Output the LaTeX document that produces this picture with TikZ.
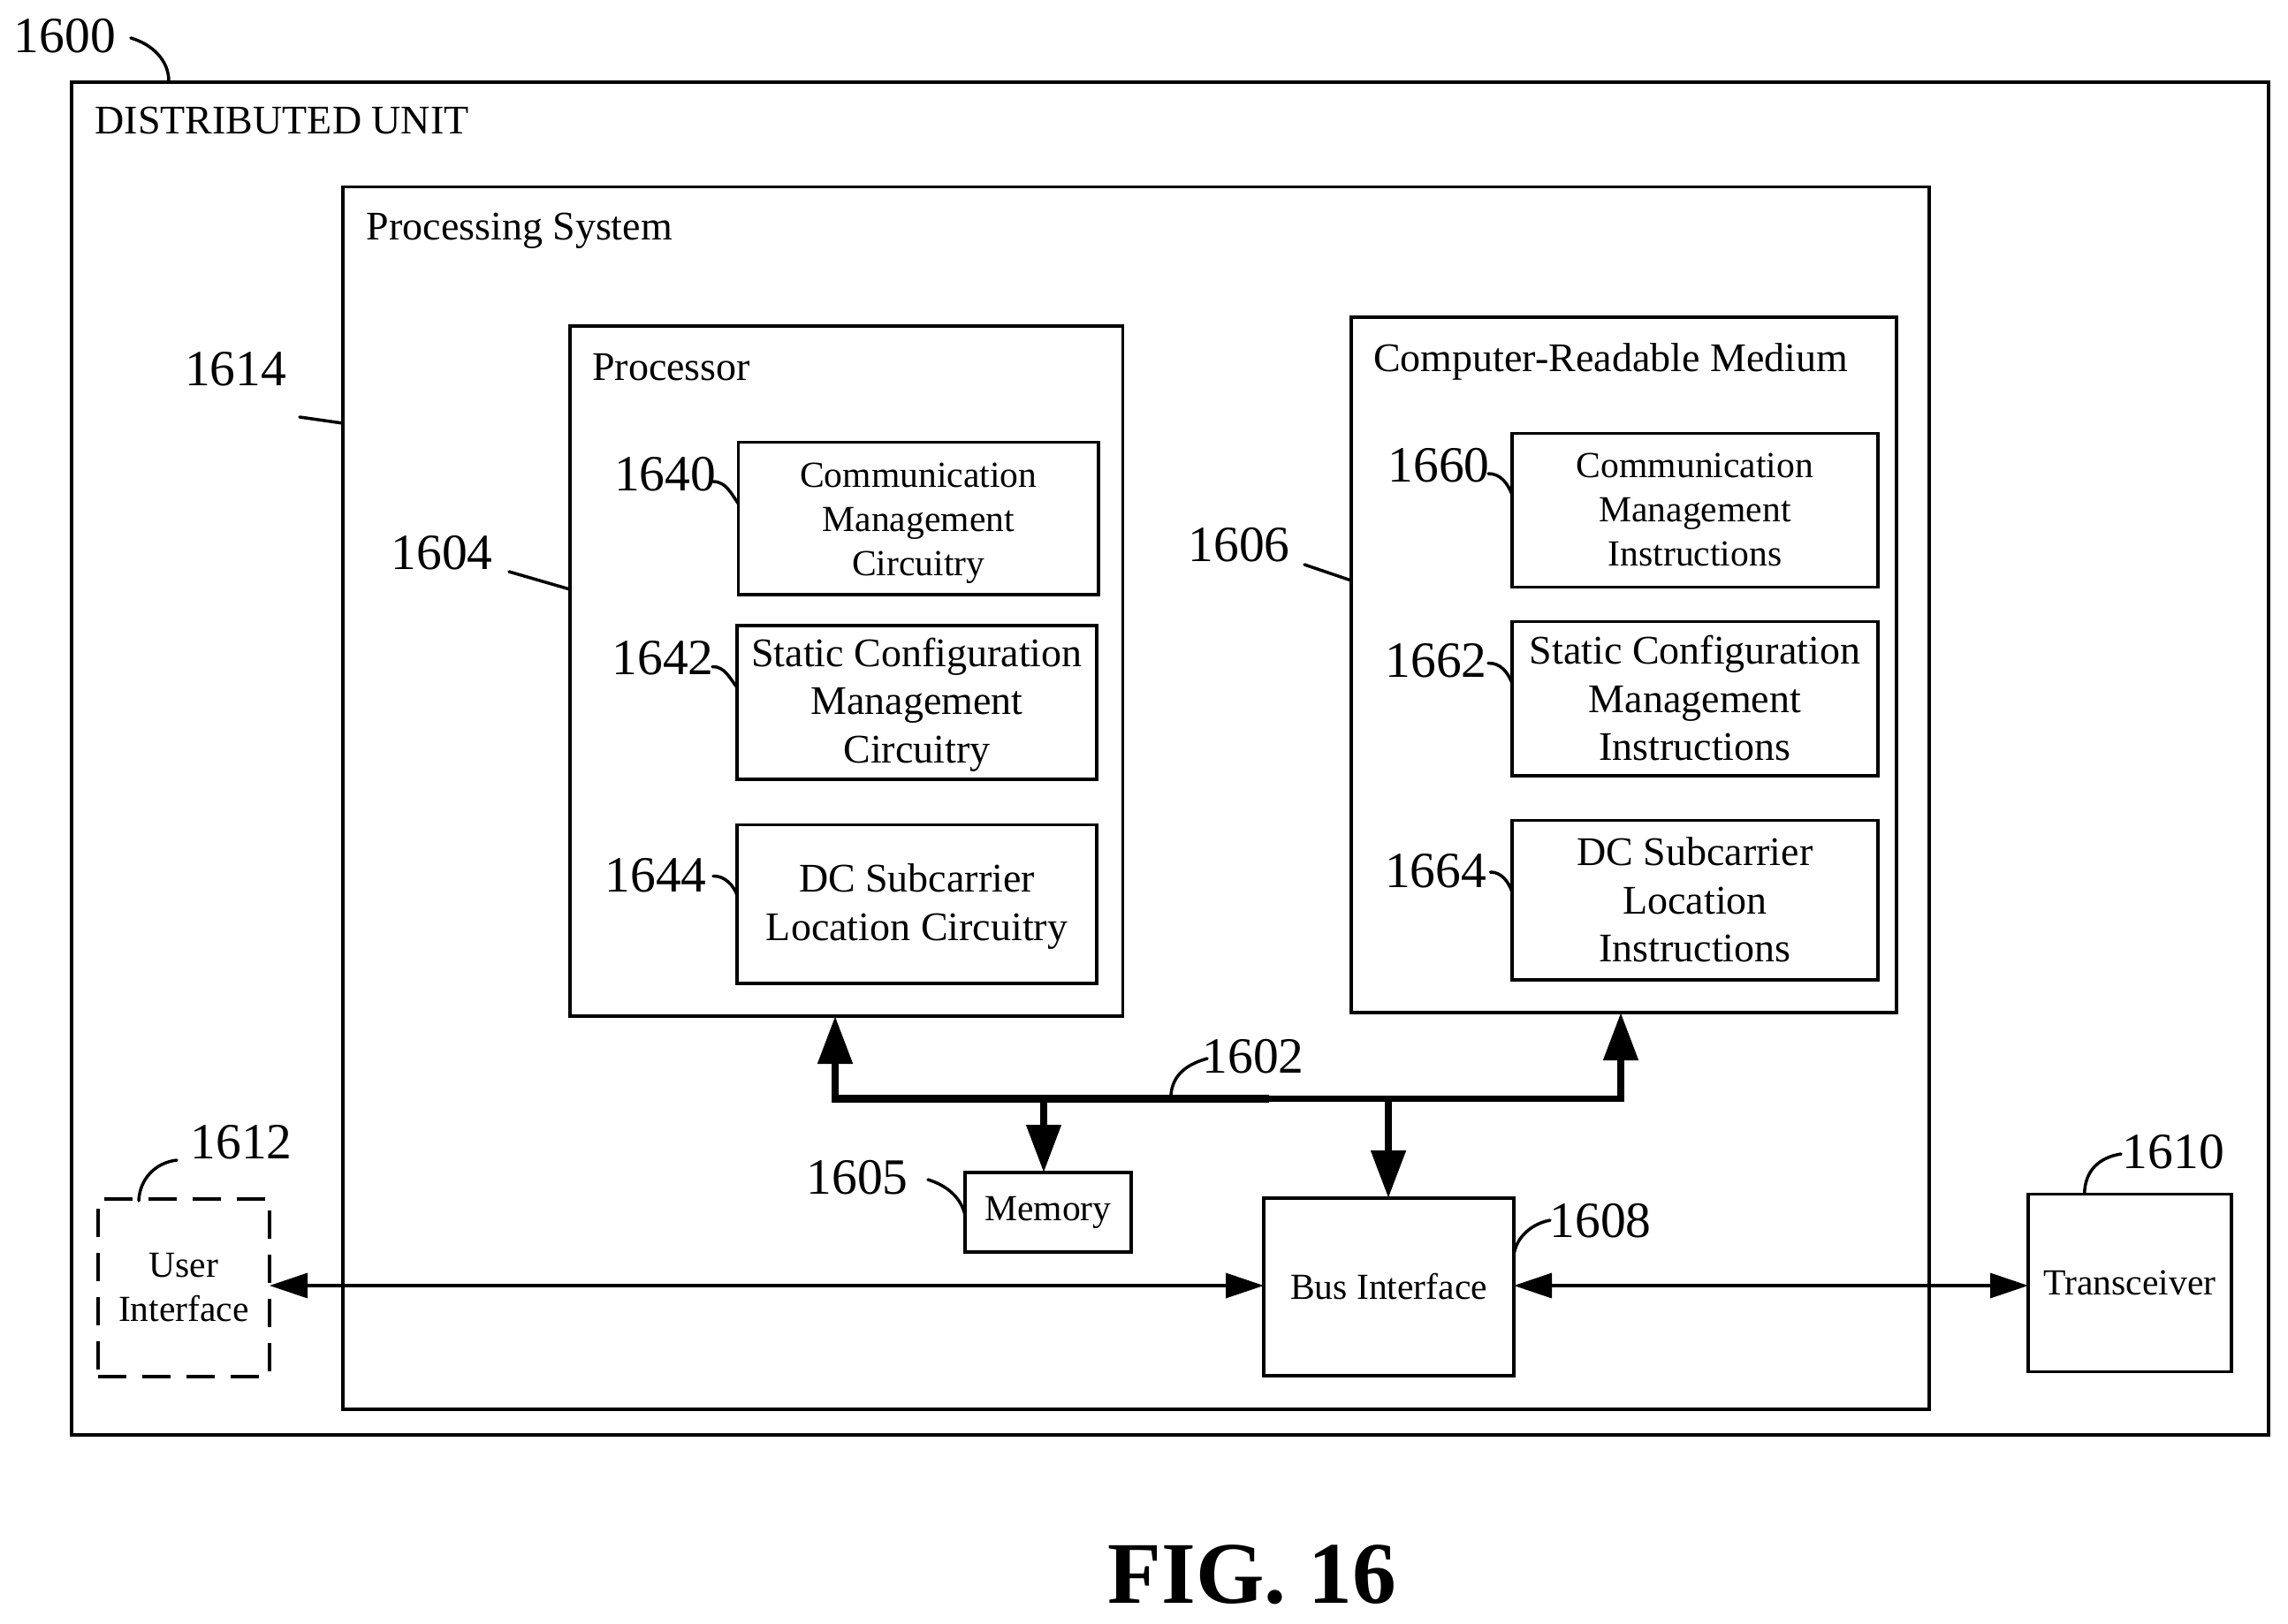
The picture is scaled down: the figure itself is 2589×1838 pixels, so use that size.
\documentclass[tikz,border=0pt]{standalone}
\usepackage{fontspec}
\setmainfont{Liberation Serif}
\usetikzlibrary{arrows.meta}
\newcommand{\txtbig}{\fontsize{46}{54.5}\selectfont}
\newcommand{\txtsmall}{\fontsize{41.6}{50}\selectfont}
\newcommand{\txtref}{\fontsize{57.5}{60}\selectfont}
\newcommand{\txtfig}{\fontsize{99.5}{110}\selectfont\bfseries}
\newcommand{\topgap}[1]{\rule{0pt}{#1pt}}
\tikzset{
  box/.style={draw=black,line width=3.5pt,inner sep=0pt,outer sep=0pt,align=center,fill=none},
  bigbox/.style={box,font=\txtbig},
  smallbox/.style={box,font=\txtsmall},
  title/.style={inner sep=0pt,anchor=base west,font=\txtbig},
  refnum/.style={inner sep=0pt,font=\txtref},
  leader/.style={line width=3.5pt,line cap=round},
  busline/.style={line width=9pt,line cap=rect},
  busarrow/.style={line width=8pt,-{Triangle[length=54pt,width=38pt]}},
  thinarrow/.style={line width=3.5pt,{Triangle[length=43pt,width=28pt]}-{Triangle[length=43pt,width=28pt]}},
  dashbox/.style={line width=3.5pt,dash pattern=on 32pt off 18pt}
}
\begin{document}
\begin{tikzpicture}[x=1pt,y=-1pt]
\useasboundingbox[fill=white] (0,0) rectangle (2589,1838);
% containers
\node[box,minimum width=2486pt,minimum height=1531pt] (outer) at (1324,858.5) {};
\node[box,minimum width=1795pt,minimum height=1383.3pt] (ps) at (1285.5,903.35) {};
\node[box,minimum width=625.5pt,minimum height=781pt] (proc) at (957.75,759.5) {};
\node[box,minimum width=617pt,minimum height=787pt] (crm) at (1837.5,752.5) {};
\node[title] (tdu) at (107.5,151.5) {DISTRIBUTED UNIT};
\node[title] (tps) at (414.5,272) {Processing System};
\node[title] (tproc) at (670,430) {Processor};
\node[title] (tcrm) at (1554,420) {Computer-Readable Medium};
% processor blocks
\node[smallbox,minimum width=407.5pt,minimum height=172.6pt] (b1640) at (1039.25,586.7) {\topgap{38.4}Communication\\Management\\Circuitry};
\node[bigbox,minimum width=407pt,minimum height=174pt] (b1642) at (1037.5,795) {\topgap{37.4}Static Configuration\\Management\\Circuitry};
\node[bigbox,minimum width=407pt,minimum height=179.5pt] (b1644) at (1037.5,1023.25) {\topgap{37.4}DC Subcarrier\\Location Circuitry};
% medium blocks
\node[smallbox,minimum width=414pt,minimum height=174pt] (b1660) at (1918,577.3) {Communication\\Management\\Instructions};
\node[bigbox,minimum width=414pt,minimum height=174.5pt] (b1662) at (1918,790.5) {Static Configuration\\Management\\Instructions};
\node[bigbox,minimum width=414pt,minimum height=180.5pt] (b1664) at (1918,1018.5) {DC Subcarrier\\Location\\Instructions};
% lower blocks
\node[smallbox,minimum width=188pt,minimum height=90pt] (mem) at (1186,1372) {Memory};
\node[smallbox,minimum width=283pt,minimum height=201pt] (bus) at (1571.5,1456.5) {Bus Interface};
\node[smallbox,minimum width=230pt,minimum height=201pt] (trans) at (2410,1452) {Transceiver};
\node[smallbox,draw=none,minimum width=194pt,minimum height=201pt] (ui) at (208,1457.5) {User\\Interface};
\draw[dashbox] (ui.south west) -- (ui.south east) -- (ui.north east) -- (ui.north west) -- cycle;
% bus
\coordinate (busL) at (945,1243.5);
\coordinate (busM) at (1181,1243.5);
\coordinate (busJ) at (1431,1243.5);
\coordinate (busB) at (1571,1243.5);
\coordinate (busR) at (1834,1243.5);
\coordinate (hline) at (0,1455);
\draw[busline] (busL) -- (busJ);
\draw[busline,line width=7.5pt] (busJ) -- (busR);
\draw[busarrow] (busL) -- (busL |- proc.south);
\draw[busarrow] (busR) -- (busR |- crm.south);
\draw[busarrow] (busM) -- (busM |- mem.north);
\draw[busarrow] (busB) -- (busB |- bus.north);
\draw[thinarrow] (ui.east |- hline) -- (bus.west |- hline);
\draw[thinarrow] (bus.east |- hline) -- (trans.west |- hline);
% reference numerals
\node[refnum] (r1600) at (73.5,41) {1600};
\node[refnum] (r1614) at (266.5,417.5) {1614};
\node[refnum] (r1604) at (500,626) {1604};
\node[refnum] (r1606) at (1402,617) {1606};
\node[refnum] (r1640) at (752.7,537) {1640};
\node[refnum] (r1642) at (750,744.6) {1642};
\node[refnum] (r1644) at (742,991) {1644};
\node[refnum] (r1660) at (1628,527) {1660};
\node[refnum] (r1662) at (1625,748) {1662};
\node[refnum] (r1664) at (1624.7,985.6) {1664};
\node[refnum] (r1602) at (1418,1196) {1602};
\node[refnum] (r1605) at (970,1333) {1605};
\node[refnum] (r1608) at (1811,1382) {1608};
\node[refnum] (r1612) at (273,1293) {1612};
\node[refnum] (r1610) at (2459.4,1303.7) {1610};
% leaders
\coordinate (l1600) at (148,43);
\coordinate (e1600) at (191,92);
\draw[leader] (l1600) .. controls (172,50) and (191,68) .. (e1600);
\coordinate (l1614) at (339,472);
\draw[leader] (l1614) -- (ps.west |- 0,479);
\coordinate (l1604) at (576,647);
\draw[leader] (l1604) -- (proc.west |- 0,667);
\coordinate (l1606) at (1476,639);
\draw[leader] (l1606) -- (crm.west |- 0,657);
\coordinate (l1640) at (807,545);
\draw[leader] (l1640) .. controls (822,545) and (828,560) .. (b1640.west |- 0,570);
\coordinate (l1642) at (806,754.5);
\draw[leader] (l1642) .. controls (820,754) and (826,768) .. (b1642.west |- 0,778);
\coordinate (l1644) at (807,991.5);
\draw[leader] (l1644) .. controls (820,991) and (830,1002) .. (b1644.west |- 0,1013);
\coordinate (l1660) at (1684,536);
\draw[leader] (l1660) .. controls (1698,536) and (1706,547) .. (b1660.west |- 0,560);
\coordinate (l1662) at (1684,750.6);
\draw[leader] (l1662) .. controls (1698,750) and (1706,761) .. (b1662.west |- 0,773);
\coordinate (l1664) at (1686.5,987);
\draw[leader] (l1664) .. controls (1699,987) and (1707,998) .. (b1664.west |- 0,1009.5);
\coordinate (l1602) at (1366,1198);
\coordinate (e1602) at (1325,1239);
\draw[leader] (l1602) .. controls (1345,1204) and (1327,1215) .. (e1602);
\coordinate (l1605) at (1050,1335);
\draw[leader] (l1605) .. controls (1072,1342) and (1087,1355) .. (mem.west |- 0,1375);
\coordinate (l1608) at (1754,1381);
\draw[leader] (l1608) .. controls (1733,1385) and (1716,1400) .. (bus.east |- 0,1420);
\coordinate (l1612) at (200,1313);
\coordinate (e1612) at (157,1359);
\draw[leader] (l1612) .. controls (175,1316) and (158,1335) .. (e1612);
\coordinate (l1610) at (2400,1306);
\draw[leader] (l1610) .. controls (2375,1310) and (2359,1325) .. (trans.north -| 2358.7,0);
% figure caption
\node[inner sep=0pt,font=\txtfig] (fig) at (1417,1782) {FIG. 16};
\end{tikzpicture}
\end{document}
